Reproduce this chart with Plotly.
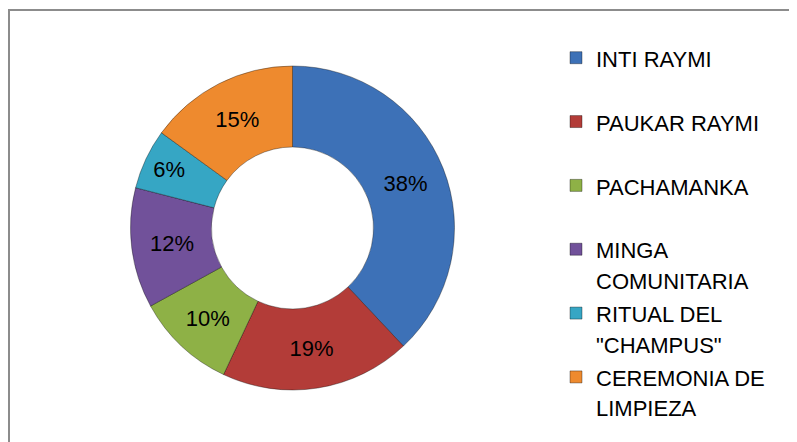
import textwrap
import plotly.graph_objects as go

categories = ["INTI RAYMI", "PAUKAR RAYMI", "PACHAMANKA", "MINGA COMUNITARIA",
              'RITUAL DEL "CHAMPUS"', "CEREMONIA DE LIMPIEZA"]
values = [38, 19, 10, 12, 6, 15]
colors = ["#3D71B7", "#B33C38", "#8EB146", "#71519A", "#36A6C4", "#EE8A2E"]


def legend_label(s):
    lines = textwrap.wrap(s, width=12)
    while len(lines) < 2:
        lines.append("\u00a0")
    return "<br>".join('<span style="font-size:22px">%s</span>' % ln for ln in lines)


labels = [legend_label(c) for c in categories]

W, H = 797, 442

fig = go.Figure(go.Pie(
    labels=labels,
    values=values,
    hole=0.5,
    sort=False,
    direction="clockwise",
    rotation=0,
    marker=dict(colors=colors, line=dict(color="rgba(0,0,0,0.35)", width=1)),
    texttemplate="%{percent:.0%}",
    textposition="inside",
    insidetextorientation="horizontal",
    textfont=dict(family="Liberation Sans, Arial, sans-serif", size=22, color="black"),
    domain=dict(x=[122.5 / W, 446.5 / W], y=[1 - 382 / H, 1 - 58 / H]),
    hovertemplate="%{customdata}: %{percent}<extra></extra>",
    customdata=categories,
))

fig.update_layout(
    width=W, height=H,
    margin=dict(l=0, r=0, t=0, b=0),
    paper_bgcolor="white",
    plot_bgcolor="white",
    font=dict(family="Liberation Sans, Arial, sans-serif", size=22, color="black"),
    showlegend=True,
    legend=dict(
        x=548 / W, xanchor="left",
        y=1 - 28 / H, yanchor="top",
        valign="top",
        font=dict(size=23.4, color="black"),
        bgcolor="rgba(0,0,0,0)",
        traceorder="normal",
    ),
    shapes=[dict(
        type="rect", xref="paper", yref="paper",
        x0=1 / W, x1=1.05, y0=-0.05, y1=1 - 2 / H,
        line=dict(color="#8C8C8C", width=2), fillcolor="rgba(0,0,0,0)",
        layer="below",
    )],
)

fig.write_html("out.html")
